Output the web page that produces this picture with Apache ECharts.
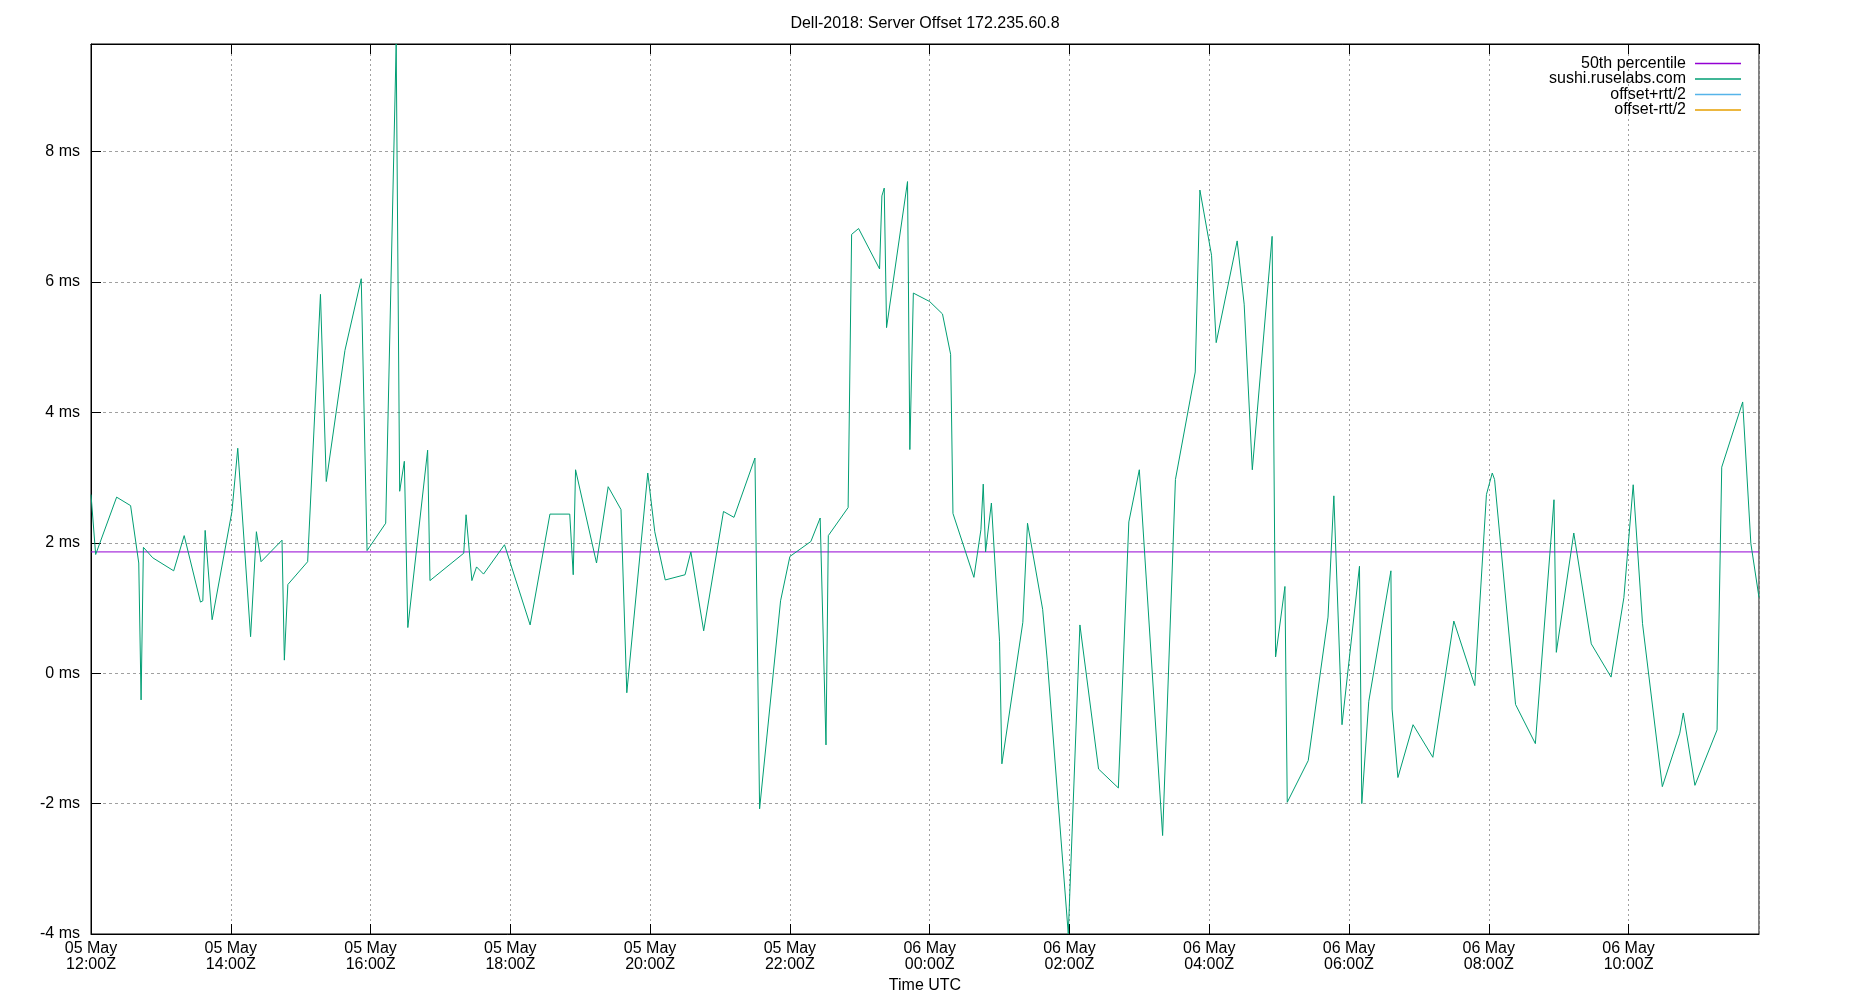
<!DOCTYPE html>
<html><head><meta charset="utf-8">
<script src="https://cdn.jsdelivr.net/npm/echarts@6/dist/echarts.min.js"></script>
<style>html,body{margin:0;padding:0;background:#fff}#c{width:1850px;height:1000px}</style>
</head><body><div id="c"></div>
<script>
const titleText = "Dell-2018: Server Offset 172.235.60.8";
const xAxisName = "Time UTC";
const seriesNames = ["50th percentile", "sushi.ruselabs.com", "offset+rtt/2", "offset-rtt/2"];
const seriesColors = ["#9400d3", "#009e73", "#56b4e9", "#e69f00"];
const median50 = 1.86;
const xStart = "05 12:00";
const xEnd = "06 11:52";
const yMin = -4, yMax = 9.65, yStep = 2;
const sampleTimes = [
"05 12:00","05 12:04","05 12:22","05 12:34","05 12:41","05 12:43","05 12:45","05 12:53","05 13:11","05 13:20",
"05 13:34","05 13:36","05 13:38","05 13:44","05 14:01","05 14:06","05 14:17","05 14:22","05 14:26","05 14:44",
"05 14:46","05 14:49","05 15:06","05 15:17","05 15:22","05 15:38","05 15:52","05 15:57","05 16:13","05 16:22",
"05 16:25","05 16:29","05 16:32","05 16:49","05 16:51","05 17:20","05 17:22","05 17:27","05 17:31","05 17:37",
"05 17:55","05 18:17","05 18:34","05 18:51","05 18:54","05 18:56","05 19:14","05 19:24","05 19:35","05 19:40",
"05 19:58","05 20:04","05 20:13","05 20:30","05 20:35","05 20:46","05 21:03","05 21:12","05 21:30","05 21:34",
"05 21:52","05 22:00","05 22:18","05 22:26","05 22:31","05 22:33","05 22:50","05 22:53","05 22:59","05 23:17",
"05 23:19","05 23:21","05 23:23","05 23:41","05 23:43","05 23:46","06 00:00","06 00:11","06 00:18","06 00:20",
"06 00:38","06 00:44","06 00:46","06 00:48","06 00:53","06 01:00","06 01:02","06 01:20","06 01:24","06 01:37",
"06 01:41","06 01:59","06 02:09","06 02:25","06 02:42","06 02:51","06 03:00","06 03:20","06 03:31","06 03:48",
"06 03:52","06 04:02","06 04:06","06 04:24","06 04:30","06 04:37","06 04:54","06 04:57","06 05:05","06 05:07",
"06 05:25","06 05:42","06 05:47","06 05:54","06 06:09","06 06:11","06 06:17","06 06:36","06 06:37","06 06:42",
"06 06:55","06 07:12","06 07:30","06 07:48","06 07:58","06 08:03","06 08:05","06 08:23","06 08:40","06 08:56",
"06 08:58","06 09:13","06 09:28","06 09:45","06 09:56","06 10:04","06 10:12","06 10:29","06 10:44","06 10:47",
"06 10:57","06 11:16","06 11:20","06 11:38","06 11:45","06 11:52"
];
const offsetMs = [
2.74,1.82,2.70,2.57,1.69,-0.41,1.93,1.77,1.57,2.11,
1.09,1.11,2.19,0.82,2.48,3.45,0.56,2.17,1.71,2.04,
0.20,1.36,1.71,5.81,2.94,4.95,6.05,1.88,2.30,9.65,
2.79,3.25,0.70,3.42,1.42,1.84,2.43,1.42,1.63,1.52,
1.97,0.74,2.44,2.44,1.51,3.12,1.69,2.86,2.51,-0.30,
3.07,2.17,1.43,1.51,1.86,0.65,2.48,2.39,3.30,-2.08,
1.11,1.79,2.02,2.38,-1.10,2.11,2.54,6.73,6.82,6.20,
7.32,7.44,5.30,7.54,3.43,5.83,5.70,5.51,4.89,2.45,
1.47,2.20,2.90,1.86,2.61,0.49,-1.39,0.78,2.30,0.98,
0.19,-4.00,0.74,-1.47,-1.76,2.32,3.12,-2.49,2.97,4.62,
7.41,6.41,5.07,6.63,5.66,3.12,6.70,0.25,1.33,-1.98,
-1.34,0.86,2.72,-0.79,1.64,-2.00,-0.43,1.57,-0.55,-1.60,
-0.79,-1.29,0.80,-0.19,2.74,3.07,2.97,-0.48,-1.08,2.66,
0.32,2.15,0.45,-0.06,1.16,2.89,0.76,-1.74,-0.92,-0.61,
-1.72,-0.87,3.16,4.16,1.99,1.16
];
const monthNames = ["Jan","Feb","Mar","Apr","May","Jun","Jul","Aug","Sep","Oct","Nov","Dec"];

function toMs(s) {
  const d = parseInt(s.slice(0, 2), 10);
  const h = parseInt(s.slice(3, 5), 10);
  const m = parseInt(s.slice(6, 8), 10);
  return Date.UTC(2018, 4, d, h, m);
}
const xMin = toMs(xStart), xMax = toMs(xEnd);
const pad = n => (n < 10 ? "0" : "") + n;
function fmtX(v) {
  const d = new Date(v);
  return pad(d.getUTCDate()) + " " + monthNames[d.getUTCMonth()] + "\n" + pad(d.getUTCHours()) + ":" + pad(d.getUTCMinutes()) + "Z";
}
const FONT = "Liberation Sans";
const chart = echarts.init(document.getElementById("c"), null, {renderer: "canvas"});
const legendTops = [55.5, 71, 86.5, 102];
const option = {
  animation: false,
  backgroundColor: "#fff",
  title: {text: titleText, left: "center", top: 11, textStyle: {fontFamily: FONT, fontSize: 16, fontWeight: "normal", color: "#000"}},
  legend: seriesNames.map((n, i) => ({
    data: [n], right: 109, top: legendTops[i], orient: "vertical", align: "right", padding: 0,
    icon: "rect", itemWidth: 46, itemHeight: 1.5, selectedMode: false,
    textStyle: {fontFamily: FONT, fontSize: 16, color: "#000", lineHeight: 16, padding: [0, 4, 0, 0]}
  })),
  grid: {left: 91, right: 91, top: 44, bottom: 66, show: true, borderColor: "#000", borderWidth: 1, containLabel: false},
  xAxis: [{
    type: "value", min: xMin, max: xMax, interval: 7200000,
    name: xAxisName, nameLocation: "middle", nameGap: 44,
    nameTextStyle: {fontFamily: FONT, fontSize: 16, color: "#000"},
    axisLine: {onZero: false, lineStyle: {color: "#000", width: 1}},
    axisTick: {inside: true, length: 10, lineStyle: {color: "#000"}},
    axisLabel: {formatter: fmtX, fontFamily: FONT, fontSize: 16, color: "#000", lineHeight: 15.5, margin: 7, showMaxLabel: false},
    splitLine: {show: true, lineStyle: {color: "#a0a0a0", type: [2, 3], width: 1}}
  }, {
    type: "value", position: "top", min: xMin, max: xMax, interval: 7200000,
    axisLine: {show: true, onZero: false, lineStyle: {color: "#000"}},
    axisTick: {inside: true, length: 10, lineStyle: {color: "#000"}},
    axisLabel: {show: false}, splitLine: {show: false}
  }],
  yAxis: {
    type: "value", min: yMin, max: yMax, interval: yStep,
    axisLine: {show: true, onZero: false, lineStyle: {color: "#000", width: 1}},
    axisTick: {show: true, inside: true, length: 10, lineStyle: {color: "#000"}},
    axisLabel: {formatter: v => v + " ms", fontFamily: FONT, fontSize: 16, color: "#000", margin: 11, showMaxLabel: false},
    splitLine: {show: true, lineStyle: {color: "#a0a0a0", type: [3, 3], width: 1}}
  },
  series: [
    {name: seriesNames[0], type: "line", symbol: "none", data: [[xMin, median50], [xMax, median50]],
     lineStyle: {color: seriesColors[0], width: 1}, itemStyle: {color: seriesColors[0]}},
    {name: seriesNames[1], type: "line", symbol: "none", data: sampleTimes.map((t, i) => [toMs(t), offsetMs[i]]),
     lineStyle: {color: seriesColors[1], width: 1}, itemStyle: {color: seriesColors[1]}},
    {name: seriesNames[2], type: "line", symbol: "none", data: [], lineStyle: {color: seriesColors[2], width: 1}, itemStyle: {color: seriesColors[2]}},
    {name: seriesNames[3], type: "line", symbol: "none", data: [], lineStyle: {color: seriesColors[3], width: 1}, itemStyle: {color: seriesColors[3]}}
  ]
};
chart.setOption(option);
</script>
</body></html>
